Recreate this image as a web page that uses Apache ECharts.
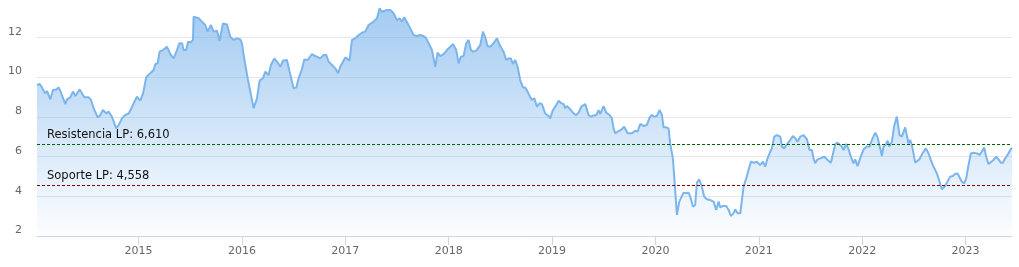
<!DOCTYPE html>
<html>
<head>
<meta charset="utf-8">
<script src="https://cdn.jsdelivr.net/npm/echarts@6/dist/echarts.min.js"></script>
<style>
html,body{margin:0;padding:0;background:#fff;}
#chart{width:1019px;height:267px;}
</style>
</head>
<body>
<div id="chart"></div>
<script>
// Decimal-year dates of the readings
const years = [
2014.017,2014.043,2014.065,2014.097,2014.114,2014.146,2014.172,2014.204,2014.226,2014.243,
2014.259,2014.291,2014.307,2014.339,2014.365,2014.388,2014.430,2014.449,2014.475,2014.494,
2014.517,2014.539,2014.565,2014.604,2014.630,2014.655,2014.688,2014.710,2014.742,2014.784,
2014.807,2014.839,2014.871,2014.904,2014.926,2014.952,2014.984,2015.016,2015.042,2015.074,
2015.113,2015.145,2015.162,2015.184,2015.203,2015.236,2015.274,2015.307,2015.339,2015.371,
2015.394,2015.420,2015.436,2015.461,2015.478,2015.500,2015.526,2015.532,2015.549,2015.581,
2015.613,2015.645,2015.668,2015.700,2015.726,2015.758,2015.784,2015.816,2015.855,2015.887,
2015.919,2015.952,2015.984,2016.000,2016.016,2016.055,2016.074,2016.113,2016.145,2016.171,
2016.203,2016.226,2016.258,2016.280,2016.313,2016.339,2016.371,2016.397,2016.435,2016.461,
2016.480,2016.500,2016.526,2016.548,2016.580,2016.603,2016.635,2016.677,2016.709,2016.758,
2016.790,2016.816,2016.838,2016.871,2016.903,2016.929,2016.951,2017.000,2017.041,2017.064,
2017.096,2017.129,2017.161,2017.193,2017.225,2017.274,2017.306,2017.332,2017.354,2017.370,
2017.403,2017.435,2017.467,2017.499,2017.525,2017.548,2017.570,2017.603,2017.628,2017.661,
2017.693,2017.725,2017.757,2017.783,2017.806,2017.838,2017.854,2017.870,2017.893,2017.918,
2017.951,2017.983,2018.015,2018.041,2018.073,2018.096,2018.118,2018.144,2018.170,2018.193,
2018.215,2018.235,2018.267,2018.305,2018.331,2018.354,2018.376,2018.402,2018.434,2018.467,
2018.499,2018.531,2018.557,2018.580,
2018.602,2018.621,2018.644,2018.667,2018.692,2018.718,2018.741,2018.763,2018.783,2018.805,
2018.828,2018.854,2018.879,2018.902,2018.934,2018.967,2018.983,2019.008,2019.031,2019.063,
2019.089,2019.112,2019.128,2019.144,2019.176,2019.208,2019.234,2019.257,2019.283,2019.321,
2019.353,2019.376,2019.402,2019.428,2019.450,2019.466,2019.499,2019.524,2019.557,2019.579,
2019.595,2019.611,2019.634,2019.666,2019.698,2019.731,2019.750,2019.773,2019.805,2019.827,
2019.853,2019.885,2019.918,2019.944,2019.966,2019.989,2020.014,2020.040,2020.063,2020.079,
2020.105,2020.127,2020.143,2020.169,2020.182,2020.208,2020.231,2020.247,2020.272,2020.298,
2020.321,2020.337,2020.363,2020.385,2020.401,2020.424,2020.450,2020.472,2020.498,2020.530,
2020.563,2020.588,2020.611,2020.627,2020.653,2020.685,2020.708,2020.730,2020.756,2020.772,
2020.795,2020.821,2020.837,2020.853,2020.879,2020.901,2020.924,2020.956,2020.982,2020.998,
2021.014,2021.040,2021.062,2021.085,2021.111,2021.127,2021.150,2021.175,2021.208,2021.224,
2021.246,2021.266,2021.285,2021.304,2021.330,2021.353,2021.375,2021.401,2021.433,2021.466,
2021.491,2021.514,2021.530,2021.546,2021.569,2021.595,2021.611,2021.633,2021.649,2021.675,
2021.698,2021.717,2021.740,2021.762,2021.781,2021.804,2021.820,2021.846,2021.869,2021.891,
2021.917,2021.933,2021.956,2021.981,2022.014,2022.046,2022.072,2022.094,2022.127,2022.149,
2022.175,2022.191,2022.207,2022.233,2022.246,2022.265,2022.288,2022.310,2022.336,2022.362,
2022.384,2022.401,2022.417,2022.433,2022.449,2022.465,2022.481,2022.497,2022.513,2022.530,
2022.555,2022.584,2022.617,2022.642,2022.665,2022.684,2022.697,2022.723,2022.749,2022.771,
2022.797,2022.820,2022.852,2022.878,2022.900,2022.923,2022.942,2022.965,2022.988,2023.007,
2023.029,2023.052,2023.078,2023.110,2023.136,2023.158,2023.181,2023.200,2023.223,2023.239,
2023.271,2023.297,2023.320,2023.342,2023.362,2023.384,2023.407,2023.433,2023.449
];
// Prices
const prices = [
9.60,9.65,9.48,9.18,9.30,8.88,9.35,9.38,9.48,9.30,
9.36,8.64,8.88,8.98,9.27,9.05,9.38,9.38,8.98,8.93,
8.98,8.85,8.43,7.97,8.09,8.34,8.17,8.26,8.00,7.42,
7.59,7.92,8.09,8.17,8.38,8.68,9.01,8.81,9.15,10.00,
10.19,10.36,10.66,10.69,11.28,11.36,11.53,11.16,10.94,11.36,
11.70,11.70,11.36,11.36,11.78,11.74,11.87,13.04,13.12,12.96,
12.79,12.62,12.29,12.62,12.29,12.34,11.83,12.70,12.65,12.03,
11.87,11.95,11.90,11.70,11.11,9.94,9.85,8.43,8.93,9.82,
9.94,10.27,10.10,10.61,10.94,10.78,10.52,10.83,10.86,10.27,
10.27,9.43,9.48,9.94,10.39,10.89,10.86,11.16,11.06,10.94,
11.11,11.11,10.78,10.61,10.44,10.19,10.52,10.99,10.83,11.87,
11.95,12.12,12.23,12.29,12.62,12.79,12.96,13.46,13.29,13.21,
13.38,13.38,13.21,12.87,12.96,12.79,13.01,12.70,12.45,12.12,
12.07,12.12,12.07,11.95,11.70,11.36,10.94,10.52,11.23,11.06,
11.16,11.36,11.53,11.66,11.36,10.69,11.03,11.06,11.70,11.87,
11.36,11.28,11.33,11.61,12.29,12.00,11.56,11.53,11.70,11.95,
11.56,11.28,10.86,10.94,
10.94,10.66,10.86,10.52,9.85,9.48,9.48,9.27,9.05,8.85,
8.93,8.51,8.68,8.64,8.17,8.04,7.92,8.34,8.51,8.81,
8.68,8.64,8.43,8.54,8.38,8.17,8.09,8.21,8.51,8.64,
8.09,8.01,8.07,8.09,8.34,8.14,8.54,8.21,8.09,7.92,
7.42,7.17,7.25,7.34,7.50,7.17,7.08,7.17,7.30,7.25,
7.64,7.54,7.59,7.97,8.09,8.01,8.04,8.34,8.09,7.47,
7.47,7.42,6.66,5.91,4.99,3.06,3.73,3.81,4.18,4.15,
4.18,3.98,3.48,3.56,4.68,4.85,4.48,3.98,3.85,3.81,
3.73,3.31,3.73,3.44,3.51,3.51,3.31,3.01,3.14,3.34,
3.14,3.14,3.22,4.48,4.90,5.32,5.74,5.69,5.74,5.79,
5.57,5.74,5.49,5.91,6.24,6.41,7.00,7.08,7.00,6.50,
6.41,6.58,6.50,6.83,7.03,6.92,6.75,7.00,7.08,6.87,
6.33,6.33,5.91,5.66,5.86,5.91,5.86,5.99,6.03,5.79,
5.69,5.74,6.63,6.70,6.80,6.50,6.33,6.63,6.36,5.99,
5.66,5.86,5.52,5.91,6.36,6.50,6.50,6.83,7.20,6.97,
6.41,6.03,6.50,6.63,6.80,6.50,6.75,7.54,8.01,7.08,
7.00,7.08,7.47,7.47,6.66,6.83,6.58,6.16,5.69,5.66,
5.86,6.16,6.41,6.16,5.83,5.57,5.62,5.15,4.73,4.35,
4.48,4.68,4.99,5.02,5.12,5.15,5.07,4.73,4.65,4.90,
5.57,6.16,6.19,6.16,6.08,6.24,6.46,5.99,5.62,5.66,
5.83,5.99,5.86,5.69,5.69,5.91,6.08,6.33,6.45
];
const xTicks = [2015, 2016, 2017, 2018, 2019, 2020, 2021, 2022, 2023];
const yTicks = [2, 4, 6, 8, 10, 12];
const resistance = 6.610;
const support = 4.558;
const resistanceLabel = 'Resistencia LP: 6,610';
const supportLabel = 'Soporte LP: 4,558';

const data = years.map((y, i) => [y, prices[i]]);
const FONT = 'DejaVu Sans';

const chart = echarts.init(document.getElementById('chart'), null, {renderer: 'canvas'});
chart.setOption({
  animation: false,
  backgroundColor: '#ffffff',
  grid: {left: 37, right: 7, top: 0, bottom: 31, containLabel: false},
  xAxis: {
    type: 'value',
    min: years[0],
    max: 2023.45,
    splitLine: {show: false},
    axisLine: {show: true, lineStyle: {color: '#ccd6eb', width: 1}},
    axisTick: {show: true, length: 9, customValues: xTicks, lineStyle: {color: '#ccd6eb'}},
    axisLabel: {
      customValues: xTicks,
      formatter: v => String(v),
      color: '#666666', fontFamily: FONT, fontSize: 11, margin: 10
    }
  },
  yAxis: {
    type: 'value',
    min: 2, max: 13.88, interval: 2,
    axisLine: {show: false},
    axisTick: {show: false},
    splitLine: {show: true, showMaxLine: false, lineStyle: {color: '#e6e6e6', width: 1}},
    axisLabel: {
      customValues: yTicks,
      formatter: v => String(v),
      color: '#666666', fontFamily: FONT, fontSize: 11,
      margin: 15, verticalAlign: 'bottom', align: 'right'
    }
  },
  series: [{
    type: 'line',
    data: data,
    showSymbol: false,
    symbol: 'none',
    lineStyle: {color: '#7cb5ec', width: 2},
    areaStyle: {
      color: new echarts.graphic.LinearGradient(0, 0, 0, 1, [
        {offset: 0, color: 'rgba(124,181,236,1)'},
        {offset: 1, color: 'rgba(124,181,236,0.03)'}
      ])
    },
    markLine: {
      silent: true,
      symbol: ['none', 'none'],
      data: [
        {yAxis: resistance, lineStyle: {color: '#006400', type: [3, 2], width: 1},
         label: {show: true, formatter: resistanceLabel, position: 'insideStartTop', distance: [10, 3],
                 color: '#111111', fontFamily: FONT, fontSize: 11.5}},
        {yAxis: support, lineStyle: {color: '#800000', type: [3, 2], width: 1},
         label: {show: true, formatter: supportLabel, position: 'insideStartTop', distance: [10, 3],
                 color: '#111111', fontFamily: FONT, fontSize: 11.5}}
      ]
    }
  }]
});
</script>
</body>
</html>
